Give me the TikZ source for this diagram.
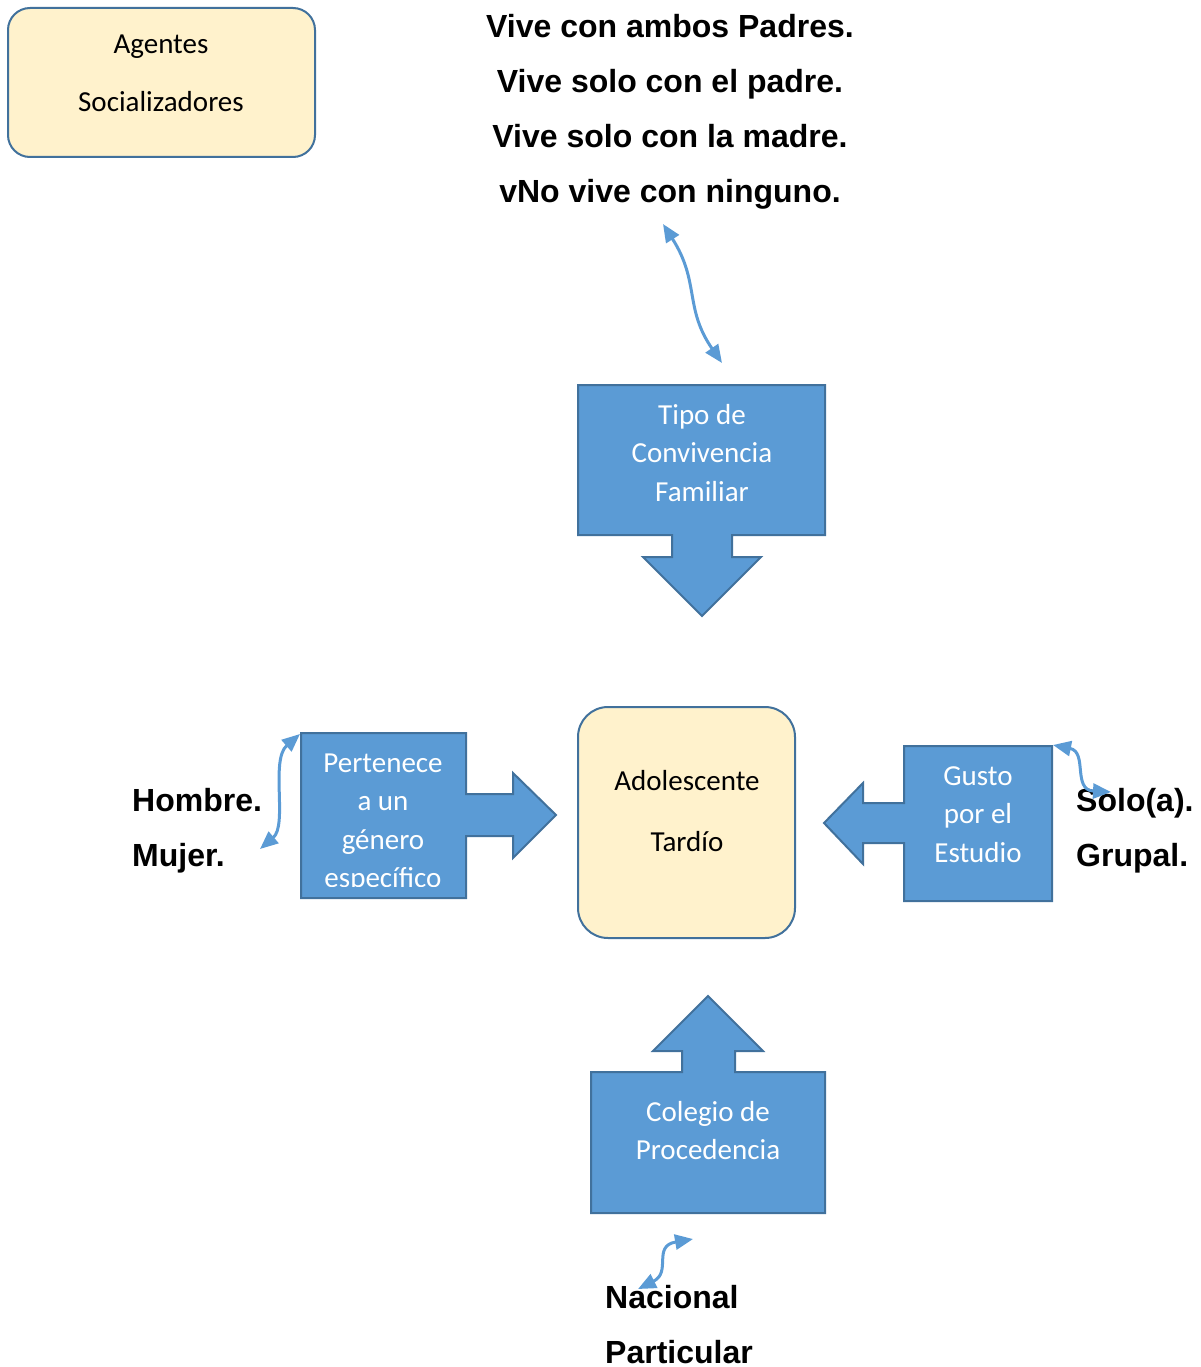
\documentclass[tikz,border=0pt]{standalone}
\usepackage{fontspec}
\setmainfont{Carlito}
\newfontfamily\arialfont{Liberation Sans}
\usetikzlibrary{arrows.meta}
\definecolor{bfill}{HTML}{5B9BD5}
\definecolor{bline}{HTML}{41719C}
\definecolor{cream}{HTML}{FFF2CC}
\tikzset{
  blk/.style={fill=bfill, draw=bline, line width=2pt, line join=miter},
  creambox/.style={fill=cream, draw=bline, line width=2pt, inner sep=0pt},
  cal/.style={font=\fontsize{29}{35}\selectfont, text=white, anchor=base, inner sep=0pt},
  calk/.style={cal, text=black},
  boldtxt/.style={font=\arialfont\bfseries\fontsize{32}{38}\selectfont, anchor=base, inner sep=0pt},
  boldl/.style={boldtxt, anchor=base west},
  link/.style={draw=bfill, line width=3pt, {Triangle[length=18pt,width=15pt]}-{Triangle[length=18pt,width=15pt]}}
}
\begin{document}
\begin{tikzpicture}[x=1pt,y=-1pt]
\useasboundingbox (0,0) rectangle (1200,1367);

% Agentes Socializadores
\node[creambox, rounded corners=22pt, minimum width=307pt, minimum height=149pt] (agentes) at (161.5,82.5) {};
\node[calk] (ag1) at (161,54) {Agentes};
\node[calk] (ag2) at (161,112) {Socializadores};

% top text
\node[boldtxt] (v1) at (670,38) {Vive con ambos Padres.};
\node[boldtxt] (v2) at (670,93) {Vive solo con el padre.};
\node[boldtxt] (v3) at (670,148) {Vive solo con la madre.};
\node[boldtxt] (v4) at (670,203) {vNo vive con ninguno.};

% Tipo de Convivencia Familiar
\draw[blk] (578,385) -- (825,385) -- (825,535) -- (732,535) -- (732,557) -- (761,557)
  -- (702,616) -- (643,557) -- (672,557) -- (672,535) -- (578,535) -- cycle;
\node[cal] (t1) at (702,424) {Tipo de};
\node[cal] (t2) at (702,462.5) {Convivencia};
\node[cal] (t3) at (702,501) {Familiar};

% Adolescente Tardio
\node[creambox, rounded corners=30pt, minimum width=217pt, minimum height=231pt] (adol) at (686.5,822.5) {};
\node[calk] (ad1) at (687,790) {Adolescente};
\node[calk] (ad2) at (687,851) {Tardío};

% Pertenece
\draw[blk] (301,733) -- (466,733) -- (466,794) -- (513,794) -- (513,773) -- (556,815)
  -- (513,858) -- (513,836) -- (466,836) -- (466,898) -- (301,898) -- cycle;
\begin{scope}
\clip (301,733) rectangle (466,886);
\node[cal] (p1) at (383,772) {Pertenece};
\node[cal] (p2) at (383,810.5) {a un};
\node[cal] (p3) at (383,849) {género};
\node[cal] (p4) at (383,887.5) {específico};
\end{scope}

% Gusto
\draw[blk] (904,746) -- (1052,746) -- (1052,901) -- (904,901) -- (904,843) -- (863,843)
  -- (863,864) -- (824,823) -- (863,783) -- (863,803) -- (904,803) -- cycle;
\node[cal] (g1) at (978,785) {Gusto};
\node[cal] (g2) at (978,823.5) {por el};
\node[cal] (g3) at (978,862) {Estudio};

% Colegio
\draw[blk] (591,1072) -- (682,1072) -- (682,1051) -- (653,1051) -- (708,996) -- (763,1051)
  -- (735,1051) -- (735,1072) -- (825,1072) -- (825,1213) -- (591,1213) -- cycle;
\node[cal] (c1) at (708,1121) {Colegio de};
\node[cal] (c2) at (708,1159.5) {Procedencia};

% side texts
\node[boldl] (h) at (132,811) {Hombre.};
\node[boldl] (m) at (132,866) {Mujer.};
\node[boldl] (s) at (1076,811) {Solo(a).};
\node[boldl] (gr) at (1076,866) {Grupal.};
\node[boldl] (n) at (605,1308) {Nacional};
\node[boldl] (pa) at (605,1363) {Particular};

% curved double arrows
\coordinate (ta) at (663,224);
\coordinate (tb) at (722,363);
\draw[link] (ta) .. controls (700,282) and (684,308) .. (tb);

\coordinate (pa1) at (300,734);
\coordinate (pb1) at (260,849);
\draw[link] (pa1) .. controls (270,760) and (288,825) .. (pb1);

\coordinate (ga) at (1053,745);
\coordinate (gb) at (1111,792);
\draw[link] (ga) .. controls (1088,752) and (1072,790) .. (gb);

\coordinate (na) at (638,1289);
\coordinate (nb) at (693,1239);
\draw[link] (na) .. controls (672,1272) and (652,1246) .. (nb);
\end{tikzpicture}
\end{document}
